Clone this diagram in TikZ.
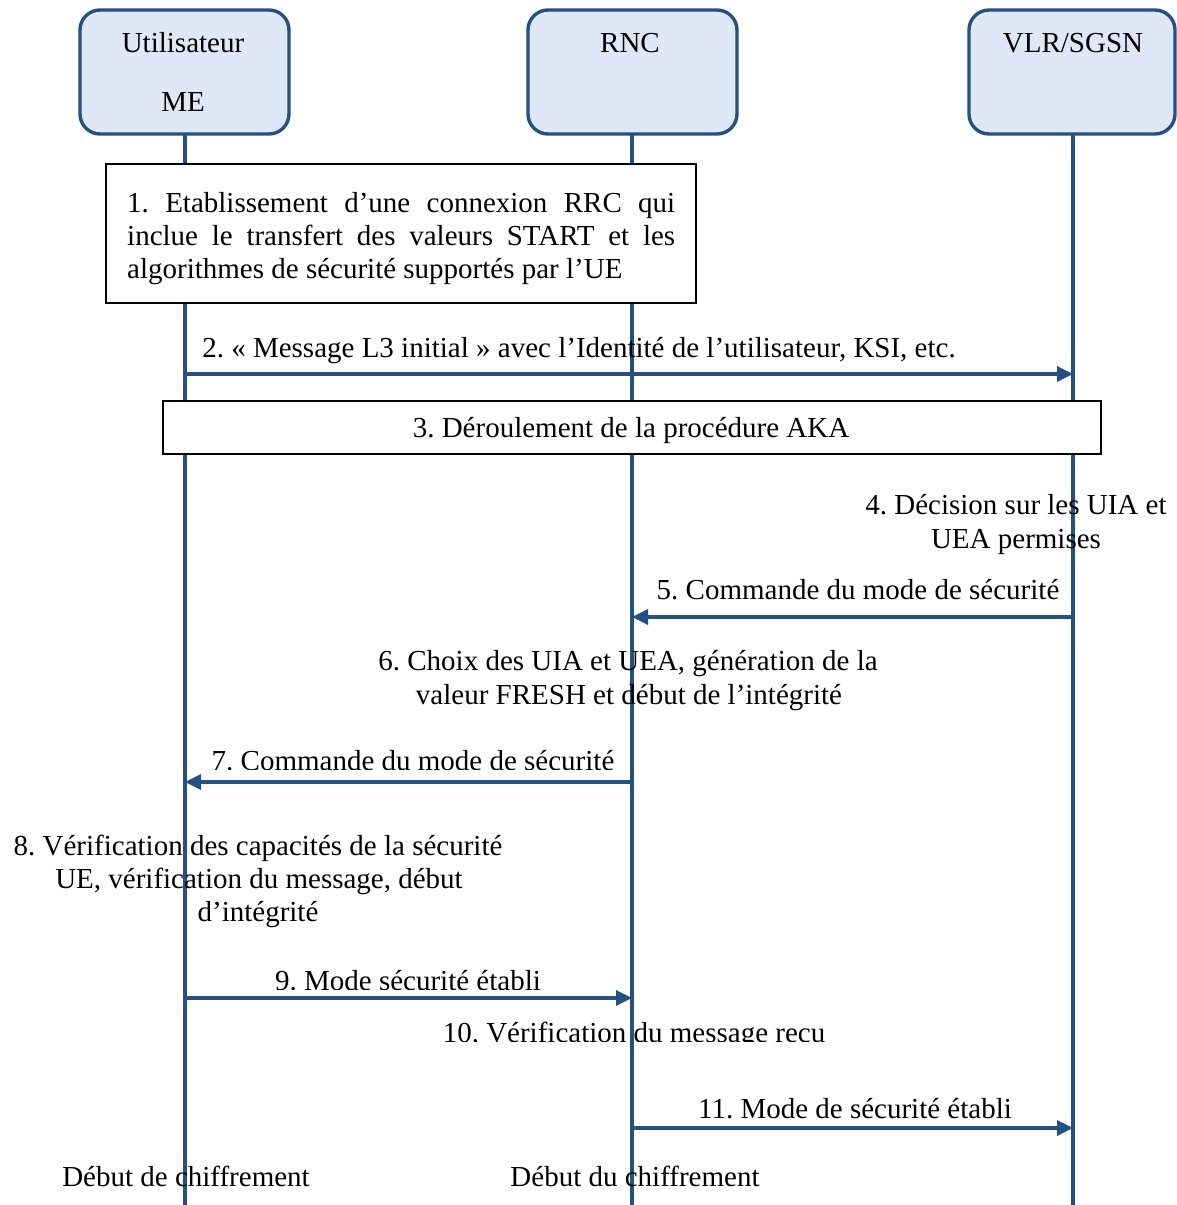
\documentclass[tikz,border=0pt]{standalone}
\usepackage{fontspec}
\setmainfont{Liberation Serif}
\frenchspacing
\usetikzlibrary{arrows.meta}
\definecolor{lifeblue}{RGB}{36,80,130}
\definecolor{headfill}{RGB}{222,232,246}
\begin{document}
\begin{tikzpicture}[x=1pt,y=-1pt,
  every node/.style={font=\fontsize{29}{34}\selectfont},
  txt/.style={anchor=base,inner sep=0pt},
  head/.style={draw=lifeblue,line width=3.4pt,fill=headfill,rounded corners=20pt,minimum width=209pt,minimum height=124pt,inner sep=0pt},
  life/.style={draw=lifeblue,line width=3.4pt},
  msg/.style={draw=lifeblue,line width=3.4pt,-{Triangle[length=16pt,width=15pt]}},
  stepbox/.style={draw=black,line width=1.8pt,fill=white,inner sep=0pt}]
\useasboundingbox (0,0) rectangle (1176,1205);
% lifeline ends
\coordinate (ue) at (185,1205);
\coordinate (rncEnd) at (632,1205);
\coordinate (vlrEnd) at (1073,1205);
% lifelines
\draw[life] (185,72) -- (ue);
\draw[life] (632,72) -- (rncEnd);
\draw[life] (1073,72) -- (vlrEnd);
% heads
\node[head] (hU) at (184.5,72) {};
\node[head] (hR) at (632.5,72) {};
\node[head,minimum width=206pt] (hV) at (1072,72) {};
\node[txt] (tU1) at (183,52) {Utilisateur};
\node[txt] (tU2) at (183,111) {ME};
\node[txt] (tR) at (630,52) {RNC};
\node[txt] (tV) at (1073,52) {VLR/SGSN};
% step 1
\node[stepbox,minimum width=590pt,minimum height=139pt] (box1) at (401,233.5) {};
\node[txt,anchor=base west] (b1a) at (127,212) {\makebox[548pt][s]{1. Etablissement d’une connexion RRC qui}};
\node[txt,anchor=base west] (b1b) at (127,245) {\makebox[548pt][s]{inclue le transfert des valeurs START et les}};
\node[txt,anchor=base west] (b1c) at (127,278) {algorithmes de sécurité supportés par l’UE};
% step 2
\coordinate (m2s) at (185,374);
\coordinate (m2e) at (1073,374);
\draw[msg] (m2s) -- (m2e);
\node[txt] (l2) at (579,357) {2. « Message L3 initial » avec l’Identité de l’utilisateur, KSI, etc.};
% step 3
\node[stepbox,minimum width=938pt,minimum height=53pt] (box3) at (632,427.5) {};
\node[txt] (l3) at (631,437) {3. Déroulement de la procédure AKA};
% step 4
\node[txt] (l4a) at (1016,514) {4. Décision sur les UIA et};
\node[txt] (l4b) at (1016,548) {UEA permises};
% step 5
\coordinate (m5s) at (1073,617);
\coordinate (m5e) at (632,617);
\draw[msg] (m5s) -- (m5e);
\node[txt] (l5) at (858,599) {5. Commande du mode de sécurité};
% step 6
\node[txt] (l6a) at (628,670) {6. Choix des UIA et UEA, génération de la};
\node[txt] (l6b) at (629,704) {valeur FRESH et début de l’intégrité};
% step 7
\coordinate (m7s) at (632,782);
\coordinate (m7e) at (185,782);
\draw[msg] (m7s) -- (m7e);
\begin{scope}
\clip (150,730) rectangle (660,769.5);
\node[txt] (l7) at (413,770) {7. Commande du mode de sécurité};
\end{scope}
% step 8
\node[txt] (l8a) at (258,855) {8. Vérification des capacités de la sécurité};
\node[txt] (l8b) at (259,888) {UE, vérification du message, début};
\node[txt] (l8c) at (258,921) {d’intégrité};
% step 9
\coordinate (m9s) at (185,998);
\coordinate (m9e) at (632,998);
\draw[msg] (m9s) -- (m9e);
\begin{scope}
\clip (150,950) rectangle (660,989.5);
\node[txt] (l9) at (408,990) {9. Mode sécurité établi};
\end{scope}
% step 10
\begin{scope}
\clip (400,1005) rectangle (880,1041);
\node[txt] (l10) at (634,1042) {10. Vérification du message recu};
\end{scope}
% step 11
\coordinate (m11s) at (632,1128);
\coordinate (m11e) at (1073,1128);
\draw[msg] (m11s) -- (m11e);
\node[txt] (l11) at (855,1118) {11. Mode de sécurité établi};
% bottom
\node[txt] (d1) at (186,1186) {Début de chiffrement};
\node[txt] (d2) at (635,1186) {Début du chiffrement};
\end{tikzpicture}
\end{document}
